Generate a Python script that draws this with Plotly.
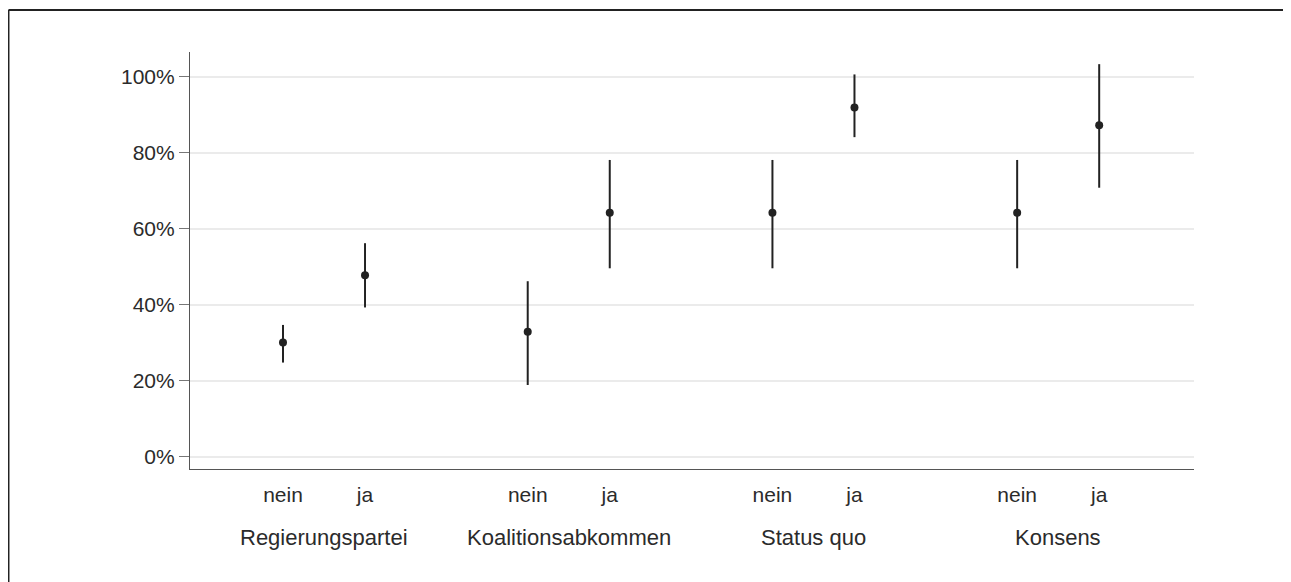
import plotly.graph_objects as go

# ---- data ----
groups = ["Regierungspartei", "Koalitionsabkommen", "Status quo", "Konsens"]
levels = ["nein", "ja"]

estimate_nein = [30.1, 32.9, 64.2, 64.2]
upper_nein = [34.7, 46.2, 78.1, 78.1]
lower_nein = [24.8, 18.9, 49.6, 49.6]

estimate_ja = [47.8, 64.2, 91.9, 87.2]
upper_ja = [56.2, 78.1, 100.6, 103.3]
lower_ja = [39.3, 49.6, 84.1, 70.8]

y_ticks = [0, 20, 40, 60, 80, 100]

# ---- layout helpers ----
DODGE = 0.1676
INK = "#222222"
TEXT = "#2b2b2b"
FONT = "Liberation Sans, Arial, sans-serif"

fig = go.Figure()

def add_series(offset, est, up, lo):
    xs = [i + offset for i in range(len(groups))]
    fig.add_trace(go.Scatter(
        x=xs, y=est, mode="markers",
        marker=dict(size=8, color=INK),
        error_y=dict(type="data", symmetric=False,
                     array=[u - e for u, e in zip(up, est)],
                     arrayminus=[e - l for e, l in zip(est, lo)],
                     width=0, thickness=2, color=INK),
        showlegend=False, hoverinfo="y",
    ))

add_series(-DODGE, estimate_nein, upper_nein, lower_nein)
add_series(DODGE, estimate_ja, upper_ja, lower_ja)

tickvals = []
ticktext = []
for i in range(len(groups)):
    tickvals += [i - DODGE, i + DODGE]
    ticktext += levels

for i, g in enumerate(groups):
    fig.add_annotation(x=i, y=-0.165, xref="x", yref="paper", text=g,
                       showarrow=False, yanchor="middle", xanchor="center",
                       font=dict(family=FONT, size=22, color=TEXT))

# outer frame: only left and top edges are visible in the reference
FX, FY = -0.1808, 1.1007
fig.add_shape(type="line", xref="paper", yref="paper",
              x0=FX, x1=FX, y0=-0.6, y1=FY,
              line=dict(color=INK, width=2), layer="above")
fig.add_shape(type="line", xref="paper", yref="paper",
              x0=FX, x1=1.3, y0=FY, y1=FY,
              line=dict(color=INK, width=2), layer="above")

fig.update_layout(
    width=1283, height=574,
    margin=dict(l=182, r=97, t=44, b=113),
    paper_bgcolor="white", plot_bgcolor="white",
    font=dict(family=FONT, size=21, color=TEXT),
    xaxis=dict(range=[-0.5476, 3.555], tickvals=tickvals, ticktext=ticktext,
               showgrid=False, zeroline=False, showline=True,
               linecolor="#555555", linewidth=1.2,
               ticks="outside", ticklen=7, tickcolor="rgba(0,0,0,0)"),
    yaxis=dict(range=[-3.2, 106.5], tickvals=y_ticks,
               ticktext=[f"{v}%" for v in y_ticks],
               showgrid=True, gridcolor="#ebebeb", gridwidth=1.5,
               zeroline=False, showline=True, linecolor="#555555", linewidth=1.2,
               ticks="outside", ticklen=10, tickcolor="#777777", tickwidth=1.2),
)

fig.write_html("out.html")
